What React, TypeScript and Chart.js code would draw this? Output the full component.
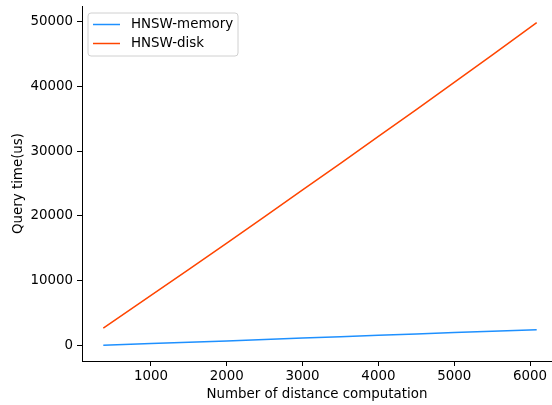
import React, { useEffect, useRef } from "react";
import { Chart, registerables } from "chart.js";

Chart.register(...registerables);

const distComps = [371, 1000, 1500, 2000, 2500, 3000, 3500, 4000, 4500, 5000, 5500, 6088];
const memoryTimes = [50, 320, 530, 740, 955, 1170, 1385, 1600, 1810, 2020, 2230, 2470];
const diskTimes = [2700, 7750, 11750, 15800, 19900, 24000, 28100, 32250, 36400, 40600, 44800, 49800];
const xTickValues = [1000, 2000, 3000, 4000, 5000, 6000];
const yTickValues = [0, 10000, 20000, 30000, 40000, 50000];
const seriesLabels = ["HNSW-memory", "HNSW-disk"];
const seriesColors = ["#1e90ff", "#ff4500"];

const FONT = "'DejaVu Sans', sans-serif";
const FS = 13.4;

const legendPlugin = {
  id: "mplLegend",
  afterDraw(chart: any) {
    const ctx = chart.ctx;
    const area = chart.chartArea;
    const x = area.left + 6;
    const y = area.top + 7;
    const w = 150;
    const h = 43;
    ctx.save();
    ctx.beginPath();
    const r = 3;
    ctx.moveTo(x + r, y);
    ctx.lineTo(x + w - r, y);
    ctx.quadraticCurveTo(x + w, y, x + w, y + r);
    ctx.lineTo(x + w, y + h - r);
    ctx.quadraticCurveTo(x + w, y + h, x + w - r, y + h);
    ctx.lineTo(x + r, y + h);
    ctx.quadraticCurveTo(x, y + h, x, y + h - r);
    ctx.lineTo(x, y + r);
    ctx.quadraticCurveTo(x, y, x + r, y);
    ctx.closePath();
    ctx.fillStyle = "rgba(255,255,255,0.8)";
    ctx.fill();
    ctx.strokeStyle = "#d0d0d0";
    ctx.lineWidth = 1;
    ctx.stroke();
    chart.data.datasets.forEach((ds: any, i: number) => {
      const ly = y + 11.5 + i * 19;
      ctx.beginPath();
      ctx.moveTo(x + 5, ly);
      ctx.lineTo(x + 32, ly);
      ctx.strokeStyle = ds.borderColor;
      ctx.lineWidth = 1.5;
      ctx.stroke();
      ctx.fillStyle = "#000";
      ctx.font = `${FS}px ${FONT}`;
      ctx.textBaseline = "middle";
      ctx.textAlign = "left";
      ctx.fillText(ds.label, x + 43, ly + 0.5);
    });
    ctx.restore();
  },
};

export default function App() {
  const ref = useRef<HTMLCanvasElement>(null);
  useEffect(() => {
    if (!ref.current) return;
    const chart = new Chart(ref.current, {
      type: "line",
      data: {
        datasets: [
          {
            label: seriesLabels[0],
            data: distComps.map((x, i) => ({ x, y: memoryTimes[i] })),
            borderColor: seriesColors[0],
            backgroundColor: seriesColors[0],
            borderWidth: 1.5,
            pointRadius: 0,
            tension: 0,
          },
          {
            label: seriesLabels[1],
            data: distComps.map((x, i) => ({ x, y: diskTimes[i] })),
            borderColor: seriesColors[1],
            backgroundColor: seriesColors[1],
            borderWidth: 1.5,
            pointRadius: 0,
            tension: 0,
          },
        ],
      },
      options: {
        responsive: false,
        animation: false,
        layout: { padding: { top: 6, right: 0, left: 0, bottom: 0 } },
        plugins: { legend: { display: false }, tooltip: { enabled: false } },
        scales: {
          x: {
            type: "linear",
            min: 90,
            max: 6290,
            afterBuildTicks: (s: any) => {
              s.ticks = xTickValues.map((v) => ({ value: v }));
            },
            afterFit: (s: any) => {
              s.height = 44;
              s.paddingLeft = 0;
              s.paddingRight = 0;
            },
            ticks: {
              color: "#000",
              font: { family: FONT, size: FS },
              padding: 2,
              maxRotation: 0,
              autoSkip: false,
              callback: (v: any) => String(v),
            },
            grid: { drawOnChartArea: false, drawTicks: true, tickLength: 5, color: "#000" },
            border: { display: true, color: "#000", width: 1 },
            title: {
              display: true,
              text: "Number of distance computation",
              color: "#000",
              font: { family: FONT, size: FS },
              padding: { top: 0, bottom: 2 },
            },
          },
          y: {
            type: "linear",
            min: -2360,
            max: 52360,
            afterBuildTicks: (s: any) => {
              s.ticks = yTickValues.map((v) => ({ value: v }));
            },
            afterFit: (s: any) => {
              s.width = 82;
              s.paddingTop = 0;
              s.paddingBottom = 0;
            },
            ticks: {
              color: "#000",
              font: { family: FONT, size: FS },
              padding: 4,
              autoSkip: false,
              callback: (v: any) => String(v),
            },
            grid: { drawOnChartArea: false, drawTicks: true, tickLength: 5, color: "#000" },
            border: { display: true, color: "#000", width: 1 },
            title: {
              display: true,
              text: "Query time(us)",
              color: "#000",
              font: { family: FONT, size: FS },
              padding: { top: 10, bottom: 0 },
            },
          },
        },
      },
      plugins: [legendPlugin],
    });
    return () => chart.destroy();
  }, []);
  return (
    <div style={{ position: "fixed", left: 0, top: 0, width: 552, height: 405, background: "#fff" }}>
      <canvas ref={ref} width={552} height={405} style={{ display: "block" }} />
    </div>
  );
}
